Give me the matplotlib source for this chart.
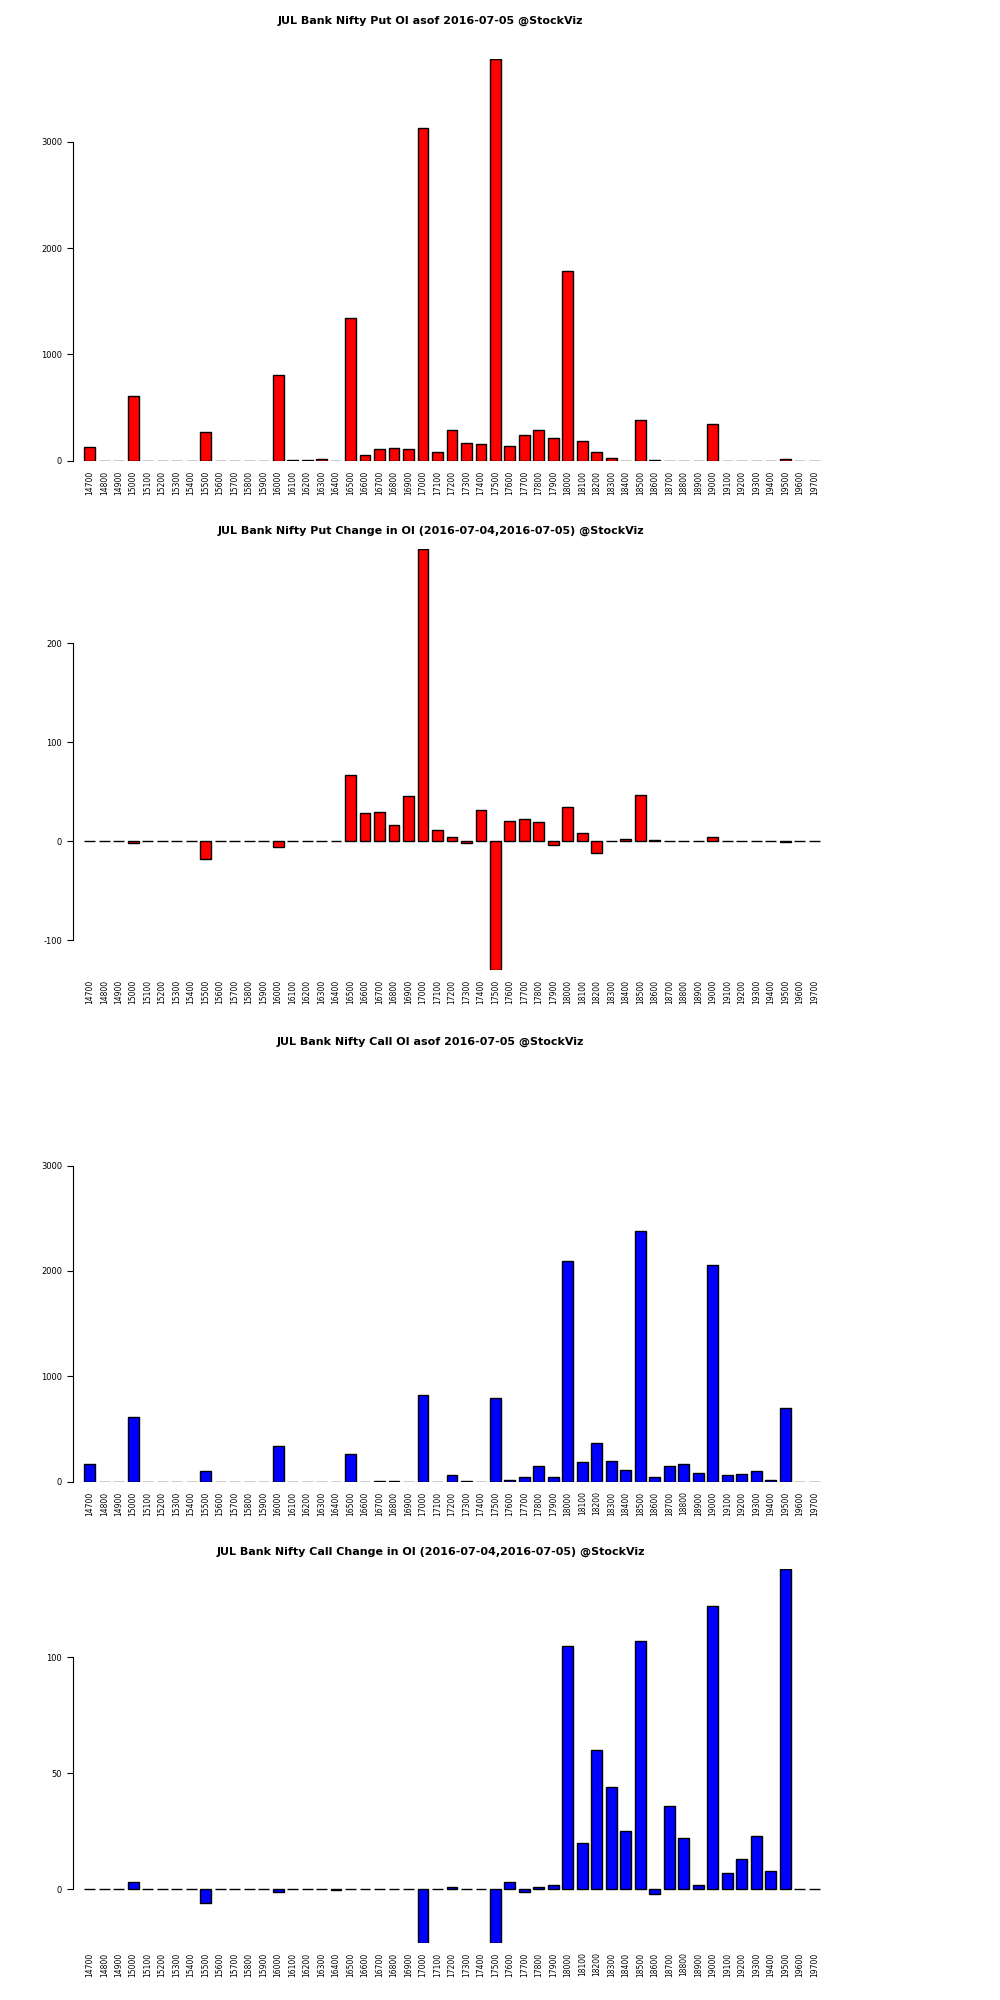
import matplotlib
matplotlib.use('Agg')
import matplotlib.pyplot as plt
import numpy as np

strikes = list(range(14700, 19800, 100))

put_oi = [130, 0, 0, 610, 0, 0, 0, 0, 270, 0, 0, 0, 0, 810, 10, 10, 20, 0, 1340, 60,
          110, 120, 110, 3130, 80, 290, 170, 160, 3780, 140, 240, 290, 220, 1780, 190, 80, 30, 0,
          380, 5, 0, 0, 0, 350, 0, 0, 0, 0, 20, 0, 0]
put_chg = [0, 0, 0, -2, 0, 0, 0, 0, -18, 0, 0, 0, 0, -6, 0, 0, 0, 0, 67, 29,
           30, 17, 46, 295, 12, 4, -2, 32, -130, 21, 23, 20, -4, 35, 8, -12, 0, 2,
           47, 1, 0, 0, 0, 4, 0, 0, 0, 0, -1, 0, 0]
call_oi = [170, 0, 0, 610, 0, 0, 0, 0, 100, 0, 0, 0, 0, 340, 0, 0, 0, 0, 260, 0,
           10, 10, 0, 820, 0, 60, 10, 0, 790, 20, 50, 150, 50, 2090, 190, 370, 200, 110,
           2380, 50, 150, 170, 80, 2060, 60, 70, 100, 20, 700, 0, 0]
call_chg = [0, 0, 0, 3, 0, 0, 0, 0, -6, 0, 0, 0, 0, -1, 0, 0, 0, -0.5, 0, 0,
            0, 0, 0, -23, 0, 1, 0, 0, -23, 3, -1, 1, 2, 105, 20, 60, 44, 25,
            107, -2, 36, 22, 2, 122, 7, 13, 23, 8, 138, 0, 0]

panels = [
    ('JUL Bank Nifty Put OI asof 2016-07-05 @StockViz', put_oi, 'red', [0, 1000, 2000, 3000], (0, 3780)),
    ('JUL Bank Nifty Put Change in OI (2016-07-04,2016-07-05) @StockViz', put_chg, 'red', [-100, 0, 100, 200], (-130, 295)),
    ('JUL Bank Nifty Call OI asof 2016-07-05 @StockViz', call_oi, 'blue', [0, 1000, 2000, 3000], (0, 3780)),
    ('JUL Bank Nifty Call Change in OI (2016-07-04,2016-07-05) @StockViz', call_chg, 'blue', [0, 50, 100], (-23, 138)),
]
# layout in pixels of a 768x1536 view: (title y, axes top, axes bottom)
boxes = [(16, 45, 354), (408, 422, 745), (800, 832, 1138), (1192, 1205, 1492)]
H = 1536.0
left, right = 60 / 768.0, 632 / 768.0

fig = plt.figure(figsize=(10, 20), dpi=100)
x = np.arange(len(strikes))
for (title, vals, col, ticks, ylim), (ty, t, b) in zip(panels, boxes):
    ax = fig.add_axes([left, 1 - b / H, right - left, (b - t) / H])
    ax.bar(x, vals, width=0.75, color=col, edgecolor='black', linewidth=1)
    ax.set_xlim(-0.8, len(strikes) - 0.4)
    ax.set_ylim(*ylim)
    ax.set_yticks(ticks)
    ax.set_yticklabels([str(v) for v in ticks])
    ax.set_xticks(x)
    ax.set_xticklabels([str(s) for s in strikes], rotation=90)
    ax.tick_params(axis='x', length=0, pad=7, labelsize=5.5)
    ax.tick_params(axis='y', length=4, direction='out', labelsize=6)
    for s in ['top', 'right', 'bottom']:
        ax.spines[s].set_visible(False)
    ax.spines['left'].set_position(('outward', 4))
    ax.spines['left'].set_bounds(ticks[0], ticks[-1])
    fig.text(0.5 * (left + right) - 0.02, 1 - ty / H, title,
             ha='center', va='center', fontsize=8, fontweight='bold')

fig.savefig('out.png', dpi=100)
